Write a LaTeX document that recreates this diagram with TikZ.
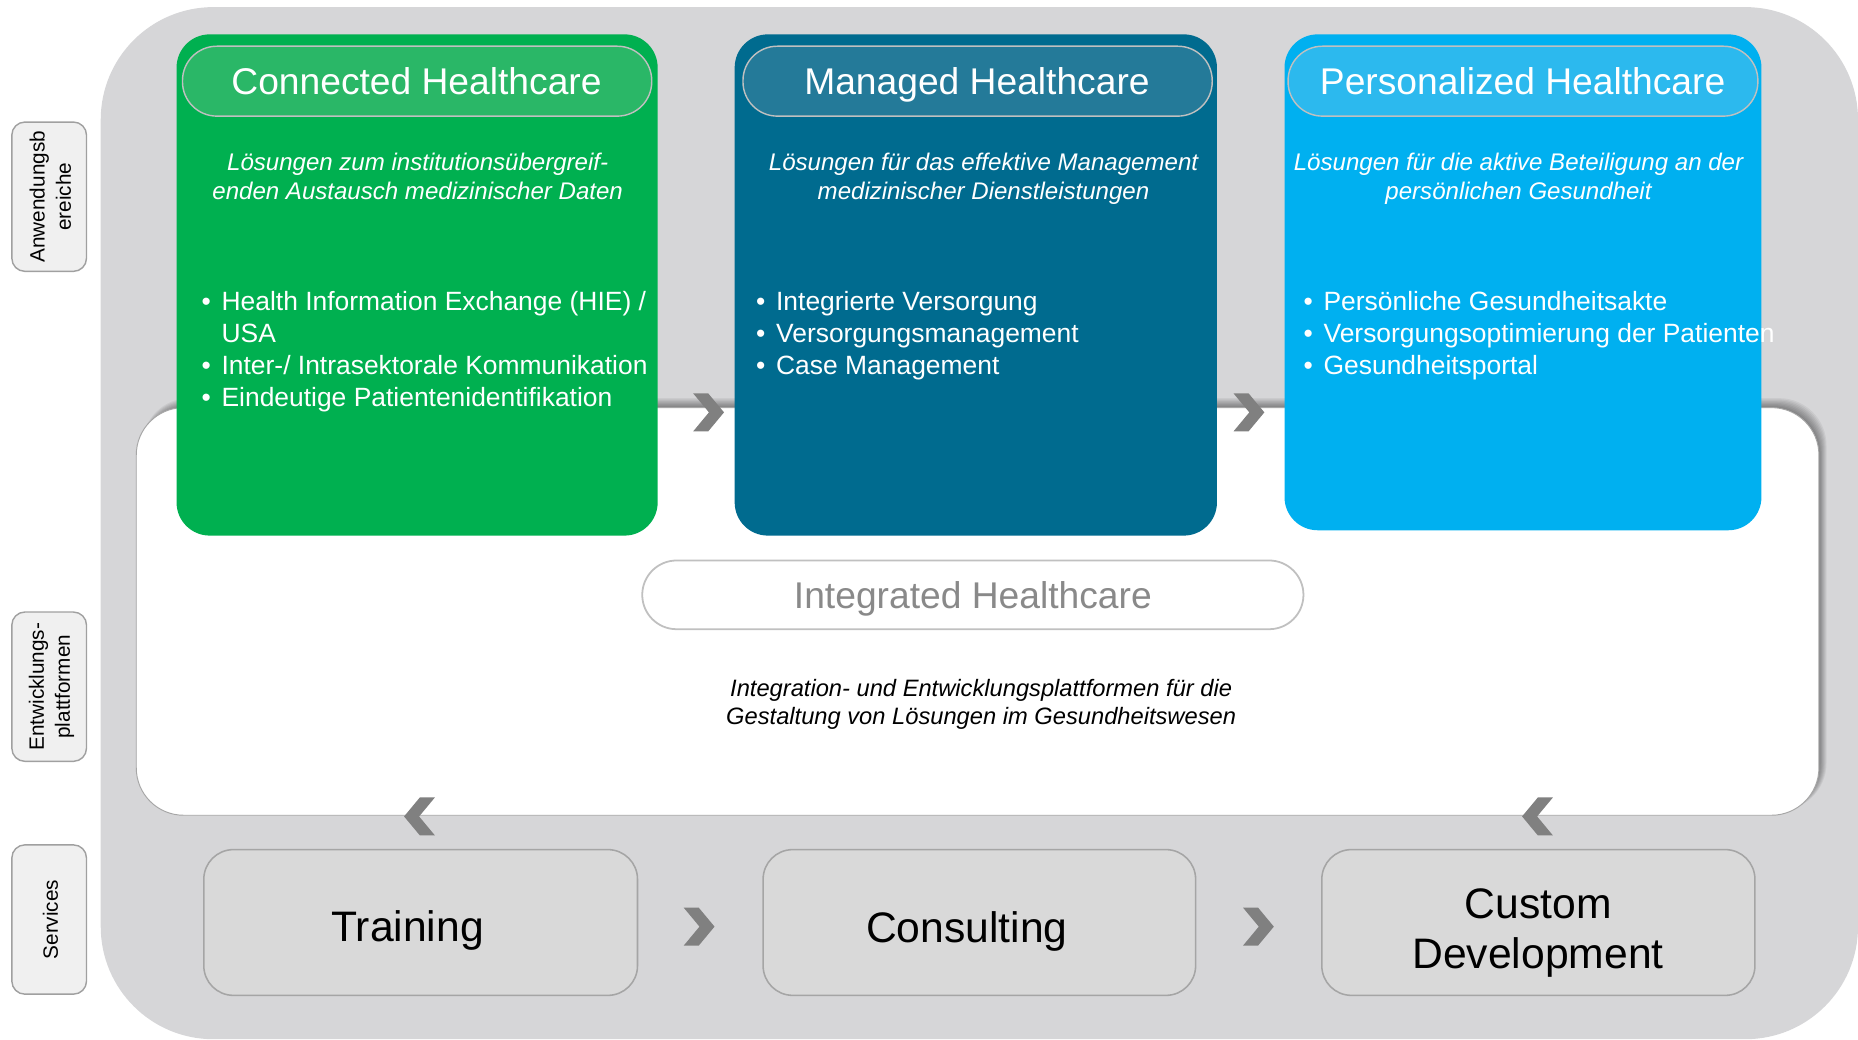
\documentclass[tikz,border=0pt]{standalone}
\usepackage{fontspec}
\setmainfont{Liberation Sans}
\definecolor{bggray}{RGB}{214,214,216}
\definecolor{cgreen}{RGB}{0,176,80}
\definecolor{cdblue}{RGB}{0,107,143}
\definecolor{clblue}{RGB}{0,176,240}
\definecolor{pgreen}{RGB}{42,183,103}
\definecolor{pdblue}{RGB}{36,122,153}
\definecolor{plblue}{RGB}{44,185,238}
\definecolor{chev}{RGB}{128,128,128}
\definecolor{svcfill}{RGB}{217,217,217}
\definecolor{svcline}{RGB}{165,165,165}
\definecolor{pillline}{RGB}{192,192,192}
\definecolor{ihtext}{RGB}{137,137,137}
\definecolor{lblfill}{RGB}{240,240,240}
\definecolor{lblline}{RGB}{160,160,160}
\newcommand\ttab[2]{\begin{tabular}[t]{@{}#1@{}}#2\end{tabular}}
\tikzset{
  card/.style={rectangle, rounded corners=28pt, inner sep=0pt, outer sep=0pt},
  hpill/.style={rectangle, rounded corners=29pt, draw=pillline, line width=1.2pt, inner sep=0pt, minimum height=59pt},
  htext/.style={text=white, font=\fontsize{31.4}{36}\selectfont, anchor=base, inner sep=0pt},
  subtext/.style={text=white, font=\fontsize{20.3}{24}\selectfont\itshape, anchor=base, inner sep=0pt},
  bullets/.style={text=white, font=\fontsize{22.3}{27}\selectfont, anchor=base west, inner sep=0pt},
  svcbox/.style={rectangle, rounded corners=25pt, fill=svcfill, draw=svcline, line width=1.3pt, minimum width=366pt, minimum height=123pt, inner sep=0pt},
  svctext/.style={font=\fontsize{36}{42.5}\selectfont, anchor=base, inner sep=0pt},
  lblbox/.style={rectangle, rounded corners=11pt, fill=lblfill, draw=lblline, line width=1.2pt, minimum width=63pt, minimum height=126pt, inner sep=0pt},
  lbltext/.style={font=\fontsize{17.5}{22}\selectfont, rotate=90, align=center, inner sep=0pt},
  chevR/.pic={\fill[chev] (-13,-16) -- (-0.3,-16) -- (13,0) -- (-0.3,16) -- (-13,16) -- (0.3,0) -- cycle;},
  chevL/.pic={\fill[chev] (13,-16) -- (0.3,-16) -- (-13,0) -- (0.3,16) -- (13,16) -- (-0.3,0) -- cycle;}
}
\begin{document}
\begin{tikzpicture}[x=1pt,y=-1pt]
\useasboundingbox (0,0) rectangle (1568,877);
% outer gray area
\fill[bggray, rounded corners=95pt] (85,6) rectangle (1568,877);
% shadow of the white platform panel
\foreach \i in {0,...,8}{
  \fill[black, opacity=0.055, rounded corners=40pt] (120,344-\i) rectangle (1535+0.8*\i,684);
}
% white platform panel
\draw[fill=white, draw=gray!70, line width=0.8pt, rounded corners=40pt] (115,344) rectangle (1535,688);

% application area cards
\node[card, fill=cgreen, minimum width=406pt, minimum height=423pt] (conn) at (352,240.5) {};
\node[card, fill=cdblue, minimum width=407pt, minimum height=423pt] (mng) at (823.5,240.5) {};
\node[card, fill=clblue, minimum width=402.5pt, minimum height=418.5pt] (pers) at (1285.25,238.25) {};

\node[hpill, fill=pgreen, minimum width=396pt] (connpill) at (352,68.5) {};
\node[hpill, fill=pdblue, minimum width=396pt] (mngpill) at (825,68.5) {};
\node[hpill, fill=plblue, minimum width=396.5pt] (perspill) at (1285.25,68.5) {};

\node[htext] (connttl) at (351.5,80) {Connected Healthcare};
\node[htext] (mngttl) at (824.5,80) {Managed Healthcare};
\node[htext] (persttl) at (1285,80) {Personalized Healthcare};

\node[subtext] (connsub) at (352.5,144) {\ttab{c}{Lösungen zum institutionsübergreif-\\enden Austausch medizinischer Daten}};
\node[subtext] (mngsub) at (830,144) {\ttab{c}{Lösungen für das effektive Management\\medizinischer Dienstleistungen}};
\node[subtext] (perssub) at (1281.5,144) {\ttab{c}{Lösungen für die aktive Beteiligung an der\\persönlichen Gesundheit}};

\node[bullets] (connlist) at (170,262.4) {\ttab{l@{\hspace{9pt}}l}{• & Health Information Exchange (HIE) /\\ & USA\\ • & Inter-/ Intrasektorale Kommunikation\\ • & Eindeutige Patientenidentifikation}};
\node[bullets] (mnglist) at (638,262.4) {\ttab{l@{\hspace{9pt}}l}{• & Integrierte Versorgung\\ • & Versorgungsmanagement\\ • & Case Management}};
\node[bullets] (perslist) at (1100,262.4) {\ttab{l@{\hspace{9pt}}l}{• & Persönliche Gesundheitsakte\\ • & Versorgungsoptimierung der Patienten\\ • & Gesundheitsportal}};

% chevrons
\pic at (598,348) {chevR};
\pic at (1054,348) {chevR};
\pic at (354,689) {chevL};
\pic at (1297.5,689) {chevL};
\pic at (590,782) {chevR};
\pic at (1062,782) {chevR};

% integrated healthcare
\node[rectangle, rounded corners=29pt, draw=pillline, line width=1.5pt, fill=white, minimum width=558pt, minimum height=58pt, inner sep=0pt] (ihpill) at (821,502) {};
\node[font=\fontsize{31.4}{36}\selectfont, text=ihtext, anchor=base, inner sep=0pt] (ihtxt) at (821,513.3) {Integrated Healthcare};
\node[font=\fontsize{20}{24.4}\selectfont\itshape, anchor=base, inner sep=0pt] (intdesc) at (828,587.4) {\ttab{c}{Integration- und Entwicklungsplattformen für die\\Gestaltung von Lösungen im Gesundheitswesen}};

% services
\node[svcbox] (train) at (355,778.5) {};
\node[svcbox, minimum width=365pt] (consult) at (826.5,778.5) {};
\node[svcbox, minimum width=365.5pt] (custom) at (1298.25,778.5) {};
\node[svctext] (traintxt) at (344,794.7) {Training};
\node[svctext] (consulttxt) at (816,795.8) {Consulting};
\node[svctext] (customtxt) at (1298,775) {\ttab{c}{Custom\\Development}};

% side labels
\node[lblbox] (lblanw) at (41.5,166) {};
\node[lblbox] (lblent) at (41.5,579.5) {};
\node[lblbox] (lblsrv) at (41.5,776) {};
\node[lbltext] (lblanwtxt) at (42.5,166) {Anwendungsb\\ereiche};
\node[lbltext] (lblenttxt) at (43.5,579.5) {Entwicklungs-\\plattformen};
\node[lbltext] (lblsrvtxt) at (42.5,776) {Services};
\end{tikzpicture}
\end{document}
